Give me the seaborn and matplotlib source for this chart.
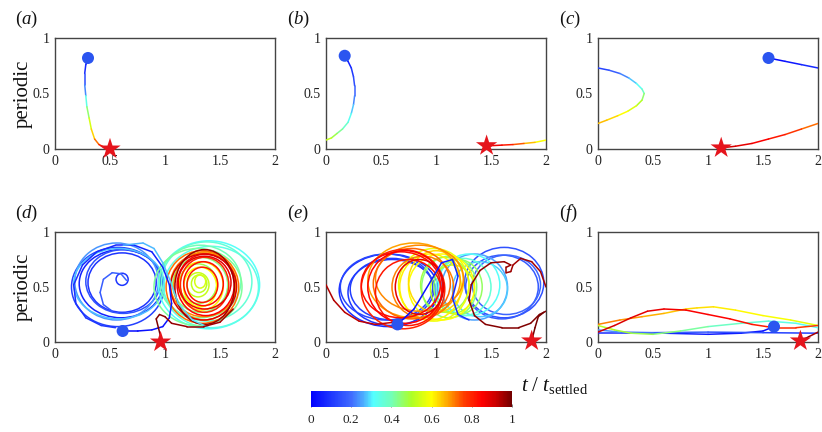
import numpy as np
import pandas as pd
import matplotlib
matplotlib.use("Agg")
import matplotlib.pyplot as plt
import seaborn as sns
from matplotlib.collections import LineCollection
from matplotlib.patches import Ellipse
from matplotlib.cm import ScalarMappable
from matplotlib.colors import Normalize, LinearSegmentedColormap

nan = np.nan

# ---------------- data ----------------
# panel (a)
a_x = [0.30, 0.28, 0.27, 0.27, 0.28, 0.29, 0.31, 0.33, 0.36, 0.40, 0.45, 0.50]
a_y = [0.82, 0.76, 0.68, 0.58, 0.48, 0.38, 0.28, 0.18, 0.09, 0.04, 0.015, 0.0]
a_t = [0.0, 0.05, 0.1, 0.18, 0.28, 0.4, 0.5, 0.6, 0.68, 0.76, 0.85, 0.92]
a_start = (0.30, 0.82)
a_end = (0.50, 0.0)

# panel (b)
b_x = [0.17, 0.20, 0.23, 0.25, 0.26, 0.26, 0.25, 0.23, 0.20, 0.15, 0.10, 0.05, 0.0, nan,
       2.0, 1.9, 1.8, 1.7, 1.6, 1.5, 1.46]
b_y = [0.84, 0.79, 0.73, 0.65, 0.57, 0.48, 0.40, 0.32, 0.24, 0.18, 0.14, 0.10, 0.08, nan,
       0.08, 0.06, 0.05, 0.04, 0.035, 0.03, 0.03]
b_t = [0.0, 0.04, 0.08, 0.12, 0.16, 0.2, 0.25, 0.3, 0.35, 0.4, 0.45, 0.5, 0.55, nan,
       0.57, 0.62, 0.7, 0.78, 0.84, 0.9, 0.93]
b_start = (0.17, 0.84)
b_end = (1.46, 0.03)

# panel (c)
c_x = [1.55, 1.7, 1.85, 2.0, nan,
       0.0, 0.1, 0.2, 0.28, 0.35, 0.40, 0.42, 0.40, 0.35, 0.27, 0.18, 0.08, 0.0, nan,
       2.0, 1.85, 1.7, 1.55, 1.4, 1.25, 1.12]
c_y = [0.82, 0.79, 0.76, 0.73, nan,
       0.73, 0.71, 0.68, 0.64, 0.59, 0.54, 0.50, 0.44, 0.39, 0.34, 0.30, 0.26, 0.23, nan,
       0.23, 0.18, 0.13, 0.09, 0.05, 0.025, 0.01]
c_t = [0.0, 0.03, 0.06, 0.09, nan,
       0.1, 0.15, 0.2, 0.25, 0.3, 0.35, 0.42, 0.48, 0.53, 0.58, 0.62, 0.65, 0.67, nan,
       0.7, 0.75, 0.8, 0.84, 0.87, 0.9, 0.92]
c_start = (1.55, 0.82)
c_end = (1.12, 0.01)

# panel (d): loops (cx, cy, rx, ry, t) and open path pieces
d_loops = [
    (0.60, 0.53, 0.38, 0.31, 0.06), (0.61, 0.54, 0.31, 0.27, 0.09),
    (0.57, 0.50, 0.42, 0.36, 0.12), (0.62, 0.55, 0.34, 0.29, 0.15),
    (0.61, 0.57, 0.055, 0.055, 0.10),
    (0.56, 0.55, 0.38, 0.35, 0.24), (0.58, 0.53, 0.41, 0.32, 0.27),
    (1.40, 0.52, 0.46, 0.40, 0.32), (1.42, 0.50, 0.43, 0.37, 0.34),
    (1.38, 0.55, 0.41, 0.36, 0.36),
    (1.32, 0.55, 0.37, 0.33, 0.40), (1.30, 0.50, 0.40, 0.35, 0.42),
    (1.32, 0.52, 0.25, 0.25, 0.44), (1.30, 0.53, 0.17, 0.18, 0.47),
    (1.31, 0.53, 0.07, 0.08, 0.52), (1.30, 0.52, 0.10, 0.11, 0.53),
    (1.32, 0.55, 0.05, 0.06, 0.55),
    (1.32, 0.50, 0.15, 0.18, 0.60), (1.33, 0.51, 0.20, 0.22, 0.62),
    (1.36, 0.51, 0.28, 0.31, 0.69), (1.34, 0.50, 0.33, 0.33, 0.72),
    (1.35, 0.52, 0.30, 0.29, 0.70),
    (1.36, 0.52, 0.22, 0.25, 0.80), (1.35, 0.53, 0.18, 0.20, 0.83),
    (1.37, 0.52, 0.26, 0.28, 0.85), (1.36, 0.54, 0.24, 0.24, 0.88),
    (1.35, 0.50, 0.30, 0.30, 0.90), (1.34, 0.52, 0.14, 0.16, 0.82),
    (1.36, 0.50, 0.27, 0.34, 0.96),
]
d_x = [0.62, 0.75, 0.88, 0.98, 1.04, 1.06, 1.04, 0.98, 0.88, 0.72, 0.55, 0.38, 0.25, 0.17, 0.19, 0.28, 0.42, 0.55, nan,
       0.52, 0.44, 0.41, 0.44, 0.52, 0.60, 0.65, nan,
       0.62, 0.80, 0.90, 0.98, 1.05, 1.12, 1.25, 1.40, nan,
       1.62, 1.50, 1.35, 1.20, 1.06, 1.00, 0.95, 0.92, 0.94, 0.96, 0.96]
d_y = [0.10, 0.10, 0.11, 0.14, 0.22, 0.35, 0.52, 0.68, 0.82, 0.88, 0.88, 0.82, 0.70, 0.52, 0.35, 0.22, 0.15, 0.13, nan,
       0.28, 0.34, 0.45, 0.57, 0.63, 0.62, 0.56, nan,
       0.88, 0.90, 0.85, 0.72, 0.55, 0.35, 0.20, 0.13, nan,
       0.30, 0.18, 0.14, 0.14, 0.17, 0.23, 0.25, 0.21, 0.13, 0.05, 0.0]
d_t = [0.02, 0.025, 0.03, 0.035, 0.04, 0.045, 0.05, 0.055, 0.06, 0.065, 0.07, 0.075, 0.08, 0.085, 0.09, 0.095, 0.1, 0.105, nan,
       0.16, 0.165, 0.17, 0.175, 0.18, 0.185, 0.19, nan,
       0.26, 0.265, 0.27, 0.275, 0.28, 0.285, 0.29, 0.3, nan,
       0.95, 0.955, 0.96, 0.965, 0.97, 0.975, 0.98, 0.985, 0.99, 0.995, 1.0]
d_start = (0.615, 0.10)
d_end = (0.96, 0.0)

# panel (e)
e_loops = [
    (0.57, 0.47, 0.45, 0.33, 0.08), (0.60, 0.45, 0.40, 0.30, 0.10),
    (0.55, 0.50, 0.42, 0.30, 0.13), (0.60, 0.48, 0.38, 0.28, 0.11),
    (1.62, 0.54, 0.36, 0.32, 0.15), (1.60, 0.50, 0.33, 0.29, 0.17),
    (1.64, 0.52, 0.31, 0.27, 0.19),
    (1.35, 0.50, 0.30, 0.30, 0.25), (1.40, 0.48, 0.25, 0.25, 0.28),
    (1.30, 0.52, 0.28, 0.28, 0.32), (1.25, 0.50, 0.25, 0.26, 0.36),
    (1.12, 0.50, 0.25, 0.28, 0.44), (1.08, 0.52, 0.22, 0.25, 0.48),
    (1.15, 0.48, 0.20, 0.22, 0.52), (1.20, 0.50, 0.22, 0.25, 0.46),
    (0.98, 0.52, 0.32, 0.33, 0.58), (0.95, 0.50, 0.28, 0.30, 0.61),
    (1.00, 0.55, 0.25, 0.28, 0.63), (1.05, 0.50, 0.30, 0.30, 0.60),
    (0.80, 0.56, 0.42, 0.34, 0.68), (0.88, 0.50, 0.28, 0.28, 0.71),
    (0.78, 0.53, 0.35, 0.32, 0.73), (0.85, 0.58, 0.40, 0.30, 0.70),
    (0.70, 0.48, 0.38, 0.36, 0.80), (0.75, 0.45, 0.30, 0.30, 0.82),
    (0.72, 0.50, 0.34, 0.33, 0.85), (0.85, 0.50, 0.22, 0.25, 0.88),
    (0.68, 0.52, 0.36, 0.30, 0.83),
]
e_x = [0.65, 0.80, 0.95, 1.05, 1.15, 1.20, 1.15, 1.20, 1.30, nan,
       0.62, 0.45, 0.30, 0.17, 0.07, 0.0, nan,
       2.0, 1.95, 1.87, 1.77, 1.70, 1.68, 1.64, 1.64, 1.68, 1.62, 1.50, 1.40, 1.32, 1.30, 1.35, 1.45,
       1.60, 1.75, 1.86, 1.94, 2.0, nan,
       1.98, 1.93, 1.90, 1.88, 1.87]
e_y = [0.16, 0.30, 0.55, 0.72, 0.75, 0.60, 0.40, 0.25, 0.20, nan,
       0.18, 0.16, 0.19, 0.27, 0.38, 0.52, nan,
       0.50, 0.64, 0.73, 0.76, 0.70, 0.64, 0.63, 0.68, 0.70, 0.73, 0.72, 0.65, 0.52, 0.38, 0.24, 0.16,
       0.13, 0.13, 0.17, 0.25, 0.28, nan,
       0.27, 0.23, 0.13, 0.05, 0.01]
e_t = [0.02, 0.03, 0.04, 0.05, 0.06, 0.07, 0.08, 0.09, 0.1, nan,
       0.92, 0.925, 0.93, 0.935, 0.94, 0.945, nan,
       0.95, 0.952, 0.954, 0.956, 0.958, 0.96, 0.962, 0.964, 0.966, 0.968, 0.97, 0.972, 0.974, 0.976, 0.978, 0.98,
       0.982, 0.984, 0.986, 0.988, 0.99, nan,
       0.992, 0.994, 0.996, 0.998, 1.0]
e_start = (0.65, 0.16)
e_end = (1.87, 0.01)

# panel (f)
f_x = [1.6, 1.5, 1.3, 1.0, 0.6, 0.3, 0.0, nan,
       2.0, 1.5, 1.0, 0.5, 0.2, 0.0, nan,
       2.0, 1.8, 1.55, 1.3, 1.0, 0.75, 0.5, 0.3, 0.15, 0.0, nan,
       2.0, 1.75, 1.5, 1.25, 1.05, 0.9, 0.8, nan,
       0.8, 0.6, 0.4, 0.2, 0.0, nan,
       2.0, 1.8, 1.6, 1.4, 1.2, 1.0, 0.8, 0.6, 0.45, 0.3, 0.15, 0.0, nan,
       2.0, 1.92, 1.84]
f_y = [0.14, 0.10, 0.08, 0.07, 0.08, 0.08, 0.08, nan,
       0.08, 0.085, 0.09, 0.085, 0.09, 0.11, nan,
       0.13, 0.17, 0.19, 0.17, 0.14, 0.10, 0.07, 0.08, 0.11, 0.15, nan,
       0.15, 0.20, 0.24, 0.29, 0.32, 0.31, 0.30, nan,
       0.30, 0.26, 0.23, 0.20, 0.16, nan,
       0.15, 0.13, 0.13, 0.16, 0.21, 0.25, 0.29, 0.30, 0.28, 0.22, 0.15, 0.09, nan,
       0.09, 0.05, 0.01]
f_t = [0.02, 0.03, 0.04, 0.05, 0.06, 0.07, 0.08, nan,
       0.1, 0.13, 0.16, 0.19, 0.22, 0.25, nan,
       0.31, 0.33, 0.35, 0.37, 0.4, 0.43, 0.46, 0.48, 0.5, 0.52, nan,
       0.56, 0.58, 0.6, 0.61, 0.62, 0.63, 0.64, nan,
       0.64, 0.66, 0.68, 0.7, 0.72, nan,
       0.76, 0.78, 0.8, 0.82, 0.84, 0.85, 0.86, 0.87, 0.88, 0.89, 0.9, 0.91, nan,
       0.93, 0.97, 1.0]
f_start = (1.6, 0.14)
f_end = (1.84, 0.01)

panel_labels = ["a", "b", "c", "d", "e", "f"]
x_ticks = [0, 0.5, 1, 1.5, 2]
x_ticklabels = ["0", "0.5", "1", "1.5", "2"]
y_ticks = [0, 0.5, 1]
y_ticklabels = ["0", "0.5", "1"]
cbar_ticks = [0, 0.2, 0.4, 0.6, 0.8, 1]
cbar_ticklabels = ["0", "0.2", "0.4", "0.6", "0.8", "1"]

# ---------------- style ----------------
sns.set_theme(style="white")
plt.rcParams["font.family"] = ["Liberation Serif", "DejaVu Serif"]
plt.rcParams["mathtext.fontset"] = "custom"
plt.rcParams["mathtext.rm"] = "Liberation Serif"
plt.rcParams["mathtext.it"] = "Liberation Serif:italic"

# jet-like colour map as seen in the colour bar (starts at pure blue)
cmap = LinearSegmentedColormap.from_list("jetlike", [
    (0.00, (0.00, 0.00, 1.00)),
    (0.10, (0.12, 0.22, 1.00)),
    (0.20, (0.25, 0.42, 1.00)),
    (0.26, (0.30, 0.68, 1.00)),
    (0.31, (0.33, 1.00, 1.00)),
    (0.40, (0.45, 1.00, 0.72)),
    (0.50, (0.68, 1.00, 0.15)),
    (0.60, (1.00, 1.00, 0.00)),
    (0.68, (1.00, 0.65, 0.00)),
    (0.76, (1.00, 0.25, 0.00)),
    (0.85, (1.00, 0.00, 0.00)),
    (0.92, (0.80, 0.00, 0.00)),
    (1.00, (0.45, 0.00, 0.00)),
])
norm = Normalize(0, 1)
LW = 1.1
DOT_C = "#2b55f0"
STAR_C = "#e5141c"

fig = plt.figure(figsize=(8.22, 4.32), dpi=100)

W = 220 / 822
H_top = 111 / 432
H_bot = 110 / 432
lefts = [55 / 822, 326 / 822, 598 / 822]
pos = [
    (lefts[0], 1 - 149 / 432, W, H_top),
    (lefts[1], 1 - 149 / 432, W, H_top),
    (lefts[2], 1 - 149 / 432, W, H_top),
    (lefts[0], 1 - 342 / 432, W, H_bot),
    (lefts[1], 1 - 342 / 432, W, H_bot),
    (lefts[2], 1 - 342 / 432, W, H_bot),
]


def draw_path(ax, xs, ys, ts):
    df = pd.DataFrame({"x": xs, "y": ys, "t": ts})
    segs, cols = [], []
    for i in range(len(df) - 1):
        r0, r1 = df.iloc[i], df.iloc[i + 1]
        if np.isnan(r0.x) or np.isnan(r1.x):
            continue
        segs.append([(r0.x, r0.y), (r1.x, r1.y)])
        cols.append(0.5 * (r0.t + r1.t))
    lc = LineCollection(segs, cmap=cmap, norm=norm, linewidths=LW,
                        capstyle="round", joinstyle="round")
    lc.set_array(np.array(cols))
    lc.set_zorder(3)
    ax.add_collection(lc)


def draw_loops(ax, loops):
    for cx, cy, rx, ry, t in loops:
        e = Ellipse((cx, cy), 2 * rx, 2 * ry, fill=False,
                    edgecolor=cmap(norm(t)), lw=LW, zorder=2 + t)
        ax.add_patch(e)


paths = [(a_x, a_y, a_t), (b_x, b_y, b_t), (c_x, c_y, c_t),
         (d_x, d_y, d_t), (e_x, e_y, e_t), (f_x, f_y, f_t)]
loops_all = [None, None, None, d_loops, e_loops, None]
starts = [a_start, b_start, c_start, d_start, e_start, f_start]
ends = [a_end, b_end, c_end, d_end, e_end, f_end]

label_xy = [(15, 19), (287, 19), (559, 19), (15, 213), (287, 213), (559, 213)]

for k in range(6):
    ax = fig.add_axes(pos[k])
    if loops_all[k] is not None:
        draw_loops(ax, loops_all[k])
    draw_path(ax, *paths[k])
    sdf = pd.DataFrame({"x": [starts[k][0]], "y": [starts[k][1]]})
    edf = pd.DataFrame({"x": [ends[k][0]], "y": [ends[k][1]]})
    sns.scatterplot(data=sdf, x="x", y="y", ax=ax, s=75, color=DOT_C,
                    edgecolor="none", zorder=6, clip_on=False, legend=False)
    sns.scatterplot(data=edf, x="x", y="y", ax=ax, s=260, marker="*",
                    color=STAR_C, edgecolor="none", zorder=7, clip_on=False, legend=False)
    ax.set_xlim(0, 2)
    ax.set_ylim(0, 1)
    ax.set_xticks(x_ticks)
    ax.set_xticklabels(x_ticklabels)
    ax.set_yticks(y_ticks)
    ax.set_yticklabels(y_ticklabels)
    ax.set_xlabel("")
    ax.set_ylabel("")
    ax.tick_params(direction="in", length=2, width=0.6, color="#888888",
                   labelsize=10, pad=4, labelcolor="#222222")
    for sp in ax.spines.values():
        sp.set_color("#444444")
        sp.set_linewidth(1.0)
        sp.set_visible(True)
    ax.set_facecolor("white")
    if k in (0, 3):
        ax.set_ylabel("periodic", fontsize=15, labelpad=0, color="#111111")
    lx, ly = label_xy[k]
    fig.text(lx / 822, 1 - ly / 432, "$(%s)$" % panel_labels[k],
             fontsize=13.5, ha="left", va="center", color="#111111")

# colorbar
cax = fig.add_axes((311 / 822, 1 - 407 / 432, 201 / 822, 16 / 432))
sm = ScalarMappable(norm=norm, cmap=cmap)
cb = fig.colorbar(sm, cax=cax, orientation="horizontal")
cb.outline.set_visible(False)
cb.set_ticks(cbar_ticks)
cb.set_ticklabels(cbar_ticklabels)
cax.tick_params(direction="in", length=2, width=0.6, color="#666666",
                labelsize=9.5, pad=5, labelcolor="#222222")
fig.text(521 / 822, 1 - 385 / 432, r"$t\ /\ t_{\mathrm{settled}}$",
         fontsize=15, ha="left", va="center", color="#111111")

fig.savefig("out.png", dpi=100, facecolor="white")
